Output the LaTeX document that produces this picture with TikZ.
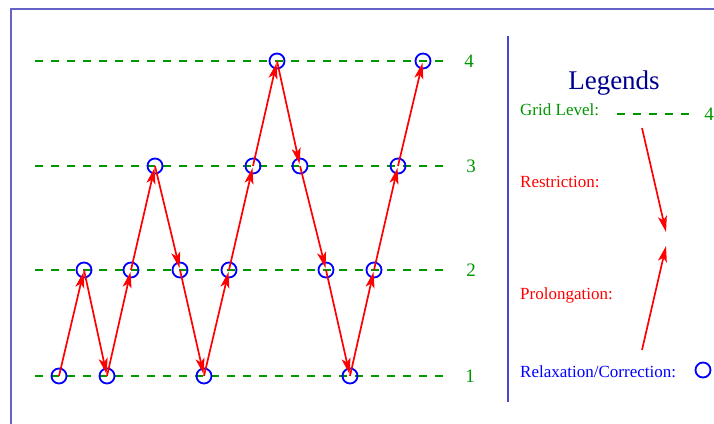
\documentclass[tikz,border=0pt]{standalone}
\usepackage{fontspec}
\setmainfont{Liberation Serif}
\usetikzlibrary{arrows.meta}
\definecolor{Grass}{RGB}{0,150,0}
\definecolor{Navy}{RGB}{0,0,144}
\definecolor{Frame}{RGB}{100,100,200}
\definecolor{Rule}{RGB}{70,70,210}

\begin{document}
\begin{tikzpicture}[x=1pt,y=-1pt,
    relax/.style={circle,draw=blue,line width=1.8pt,minimum size=15pt,inner sep=0pt},
    arr/.style={-{Stealth[length=16pt,width=9pt,inset=4pt]},line width=1.7pt,draw=red,shorten >=2pt},
    grid/.style={draw=Grass,line width=2.1pt,dash pattern=on 8pt off 8pt},
    lvl/.style={text=Grass,font=\fontsize{19}{22}\selectfont},
    lbl/.style={anchor=base west,inner sep=0pt,font=\fontsize{17}{20}\selectfont}
  ]
    \useasboundingbox (0,0) rectangle (714,423);
    \draw[draw=Frame,line width=2pt] (11,430) |- (720,9);
    \draw[draw=Rule,line width=1.8pt] (508,36) -- (508,402);
    % grid levels
    \draw[grid] (35,61) -- (447,61);   \node[lvl] (n4) at (469,61) {4};
    \draw[grid] (35,166) -- (447,166); \node[lvl] (n3) at (471,166) {3};
    \draw[grid] (35,270) -- (447,270); \node[lvl] (n2) at (471,270) {2};
    \draw[grid] (35,376) -- (447,376); \node[lvl] (n1) at (470,376) {1};
    % the cycle
    \node[relax] (p1) at (59,376) {};  \node[relax] (p2) at (84,270) {};
    \node[relax] (p3) at (107,376) {}; \node[relax] (p4) at (131,270) {};
    \node[relax] (p5) at (155,166) {}; \node[relax] (p6) at (180,270) {};
    \node[relax] (p7) at (204,376) {}; \node[relax] (p8) at (229,270) {};
    \node[relax] (p9) at (253,166) {}; \node[relax] (p10) at (277,61) {};
    \node[relax] (p11) at (300,166) {}; \node[relax] (p12) at (326,270) {};
    \node[relax] (p13) at (350,376) {}; \node[relax] (p14) at (374,270) {};
    \node[relax] (p15) at (398,166) {}; \node[relax] (p16) at (423,61) {};
    \draw[arr] (p1.center) -- (p2.center); \draw[arr] (p2.center) -- (p3.center);
    \draw[arr] (p3.center) -- (p4.center); \draw[arr] (p4.center) -- (p5.center);
    \draw[arr] (p5.center) -- (p6.center); \draw[arr] (p6.center) -- (p7.center);
    \draw[arr] (p7.center) -- (p8.center); \draw[arr] (p8.center) -- (p9.center);
    \draw[arr] (p9.center) -- (p10.center); \draw[arr] (p10.center) -- (p11.center);
    \draw[arr] (p11.center) -- (p12.center); \draw[arr] (p12.center) -- (p13.center);
    \draw[arr] (p13.center) -- (p14.center); \draw[arr] (p14.center) -- (p15.center);
    \draw[arr] (p15.center) -- (p16.center);
    % legend
    \node[text=Navy,font=\fontsize{27}{30}\selectfont,anchor=base] (leg) at (614,89) {Legends};
    \node[lbl,text=Grass] (gl) at (520,115) {Grid Level:};
    \draw[grid] (617,114) -- (691,114);
    \node[lvl,anchor=base] (gn) at (709,120) {4};
    \node[lbl,text=red] (rs) at (520,187) {Restriction:};
    \coordinate (rsa) at (642,128); \coordinate (rsb) at (666,232);
    \draw[arr,shorten >=0pt] (rsa) -- (rsb);
    \node[lbl,text=red] (pr) at (520,299) {Prolongation:};
    \coordinate (pra) at (642,350); \coordinate (prb) at (666,246);
    \draw[arr,shorten >=0pt] (pra) -- (prb);
    \node[lbl,text=blue] (rc) at (520,377) {Relaxation/Correction:};
    \node[relax] (rcc) at (703,370) {};
  \end{tikzpicture}
\end{document}
